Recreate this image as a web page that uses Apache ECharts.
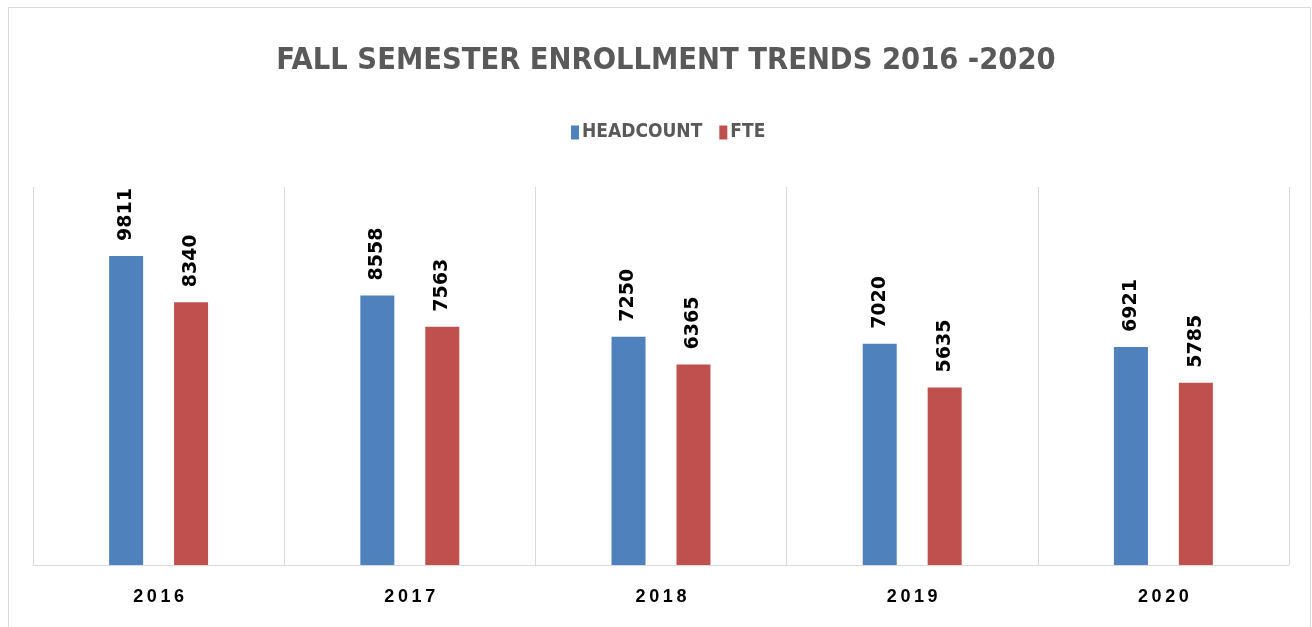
<!DOCTYPE html>
<html>
<head>
<meta charset="utf-8">
<script src="https://cdn.jsdelivr.net/npm/echarts@6/dist/echarts.min.js"></script>
<style>
  html, body { margin: 0; padding: 0; background: #fff; }
  #chart { width: 1312px; height: 627px; }
</style>
</head>
<body>
<div id="chart"></div>
<script>
  // chart data
  const years = ["2016", "2017", "2018", "2019", "2020"];
  const headcount = [9811, 8558, 7250, 7020, 6921];
  const fte = [8340, 7563, 6365, 5635, 5785];

  const myChart = echarts.init(document.getElementById("chart"));

  const barLabel = {
    show: true,
    position: "top",
    rotate: 90,
    align: "left",
    verticalAlign: "middle",
    distance: 15,
    color: "#000",
    fontFamily: "DejaVu Sans",
    fontWeight: "bold",
    fontSize: 19
  };

  const option = {
    animation: false,
    graphic: [
      {
        type: "rect",
        shape: { x: 8.5, y: 7.5, width: 1302, height: 630 },
        style: { fill: "none", stroke: "#d9d9d9", lineWidth: 1 }
      }
    ],
    title: {
      text: "FALL SEMESTER ENROLLMENT TRENDS 2016 -2020",
      left: 661,
      top: 41,
      textAlign: "center",
      textStyle: {
        fontFamily: "DejaVu Sans Condensed",
        fontWeight: "bold",
        fontSize: 30.5,
        color: "#595959"
      }
    },
    legend: {
      top: 118,
      left: 566,
      itemWidth: 8,
      itemHeight: 14,
      itemGap: 17,
      icon: "rect",
      textStyle: {
        fontFamily: "DejaVu Sans Condensed",
        fontWeight: "bold",
        fontSize: 19,
        color: "#595959",
        padding: [0, 0, 0, -2]
      },
      data: ["HEADCOUNT", "FTE"]
    },
    grid: { left: 33, right: 23, top: 187, bottom: 62 },
    xAxis: {
      type: "category",
      data: years,
      axisLine: { lineStyle: { color: "#d9d9d9" } },
      axisTick: { show: false },
      splitLine: { show: true, lineStyle: { color: "#d9d9d9" } },
      axisLabel: {
        margin: 23,
        color: "#000",
        fontFamily: "Liberation Sans",
        fontWeight: "bold",
        fontSize: 18,
        formatter: v => v.split("").join("\u2009")
      }
    },
    yAxis: {
      type: "value",
      min: 0,
      max: 12000,
      show: false,
      splitLine: { show: false }
    },
    series: [
      {
        name: "HEADCOUNT",
        type: "bar",
        data: headcount,
        barWidth: 34,
        barGap: "91%",
        itemStyle: { color: "#4F81BD" },
        label: barLabel
      },
      {
        name: "FTE",
        type: "bar",
        data: fte,
        barWidth: 34,
        itemStyle: { color: "#C0504D" },
        label: barLabel
      }
    ]
  };

  option && myChart.setOption(option);
</script>
</body>
</html>
